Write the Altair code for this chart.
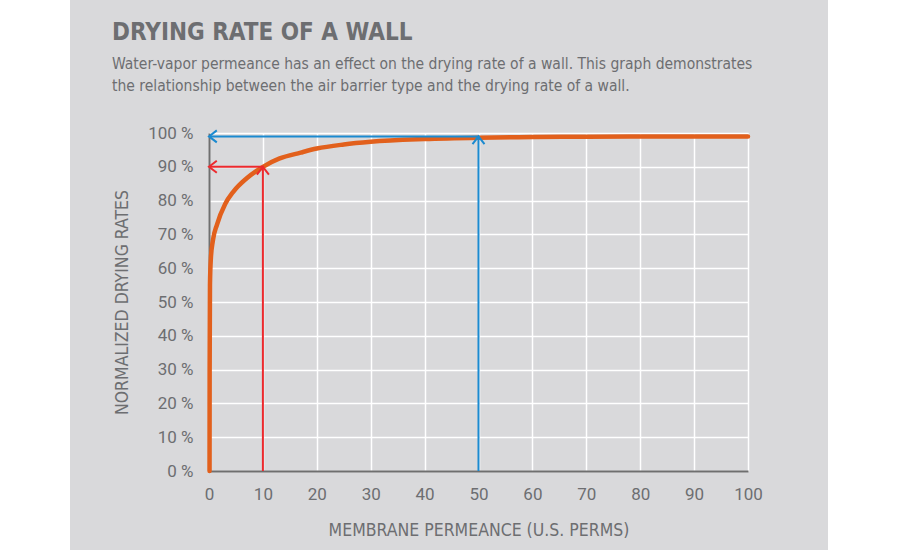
import altair as alt
import pandas as pd

# ---- data ----
perm = [0.1, 0.12, 0.18, 0.35, 0.7, 1.5, 3, 4.5, 7, 10, 13, 17, 20, 25, 30, 40, 50, 60, 70, 80, 90, 100]
rate = [0, 30, 55, 63, 68, 73, 79, 82.6, 86.6, 90, 92.4, 94.2, 95.4, 96.6, 97.4, 98.2, 98.6, 98.8, 98.9, 99, 99, 99]

arrow_series = ["red", "red", "red", "blue", "blue", "blue"]
arrow_x = [10, 10, 0, 50, 50, 0]
arrow_y = [0, 90, 90, 0, 99, 99]
arrow_order = [0, 1, 2, 0, 1, 2]

head_x = [10, 0, 50, 0]
head_y = [90, 90, 99, 99]
head_dir = ["up", "left", "up", "left"]
head_color = ["red", "red", "blue", "blue"]

x_ticks = [0, 10, 20, 30, 40, 50, 60, 70, 80, 90, 100]
y_ticks = [0, 10, 20, 30, 40, 50, 60, 70, 80, 90, 100]

title_text = "DRYING RATE OF A WALL"
subtitle_lines = [
    "Water-vapor permeance has an effect on the drying rate of a wall. This graph demonstrates",
    "the relationship between the air barrier type and the drying rate of a wall.",
]

# ---- styling ----
PANEL = "#d9d9db"
TEXT = "#6d6e71"
AXIS = "#6f6f6f"
ORANGE = "#e2601c"
RED = "#ec2a2e"
BLUE = "#1b8ad0"
NARROW = "DejaVu Sans Condensed, Liberation Sans Narrow, Roboto, sans-serif"
LABELF = "Roboto, sans-serif"

curve_df = pd.DataFrame({"perm": perm, "rate": rate, "i": range(len(perm))})
arrow_df = pd.DataFrame({"s": arrow_series, "x": arrow_x, "y": arrow_y, "o": arrow_order})
shape_map = {"up": "M -1 1.3 L 0 0 L 1 1.3", "left": "M 1.3 -1 L 0 0 L 1.3 1"}
color_map = {"red": RED, "blue": BLUE}
head_df = pd.DataFrame({
    "x": head_x, "y": head_y,
    "shape": [shape_map[d] for d in head_dir],
    "col": [color_map[c] for c in head_color],
})

W, H = 539, 338
PL, PT = 209, 133

xscale = alt.Scale(domain=[0, 100], nice=False)
yscale = alt.Scale(domain=[0, 100], nice=False)

xaxis = alt.Axis(values=x_ticks, title="MEMBRANE PERMEANCE (U.S. PERMS)", grid=True,
                 gridColor="white", gridWidth=1.5, gridOpacity=1,
                 domainColor=AXIS, domainWidth=2, ticks=False,
                 labelFont=LABELF, labelFontSize=17, labelColor=TEXT, labelPadding=15,
                 labelFlush=False, labelOverlap=False,
                 titleFont=NARROW, titleFontSize=17.5, titleFontWeight="normal",
                 titleColor=TEXT, titlePadding=19)
yaxis = alt.Axis(values=y_ticks, tickCount=11, title="NORMALIZED DRYING RATES", grid=True,
                 gridColor="white", gridWidth=1.5, gridOpacity=1,
                 domainColor=AXIS, domainWidth=2, ticks=False,
                 labelFont=LABELF, labelFontSize=17, labelColor=TEXT, labelPadding=16,
                 labelFlush=False, labelOverlap=False,
                 labelExpr="datum.value + ' %'",
                 titleFont=NARROW, titleFontSize=17.5, titleFontWeight="normal",
                 titleColor=TEXT, titlePadding=16)

bg_df = pd.DataFrame({"k": [0, 1]})
white_left = alt.Chart(bg_df.iloc[:1]).mark_rect(color="white").encode(
    x=alt.value(-PL), x2=alt.value(-PL + 70), y=alt.value(-PT), y2=alt.value(550 - PT))
white_right = alt.Chart(bg_df.iloc[1:]).mark_rect(color="white").encode(
    x=alt.value(828 - PL), x2=alt.value(900 - PL), y=alt.value(-PT), y2=alt.value(550 - PT))

curve = alt.Chart(curve_df).mark_line(color=ORANGE, strokeWidth=4.5, interpolate="monotone",
                                      strokeCap="round").encode(
    x=alt.X("perm:Q", scale=xscale, axis=xaxis),
    y=alt.Y("rate:Q", scale=yscale, axis=yaxis),
    order="i:Q",
)

arrows = alt.Chart(arrow_df).mark_line(strokeWidth=2).encode(
    x=alt.X("x:Q", scale=xscale, axis=xaxis),
    y=alt.Y("y:Q", scale=yscale, axis=yaxis),
    detail="s:N",
    order="o:Q",
    color=alt.Color("s:N", scale=alt.Scale(domain=["red", "blue"], range=[RED, BLUE]), legend=None),
)

heads = alt.Chart(head_df).mark_point(filled=False, size=144, strokeWidth=2, opacity=1).encode(
    x=alt.X("x:Q", scale=xscale, axis=xaxis),
    y=alt.Y("y:Q", scale=yscale, axis=yaxis),
    shape=alt.Shape("shape:N", scale=None),
    color=alt.Color("col:N", scale=None),
)

chart = alt.layer(white_left, white_right, curve, arrows, heads).properties(
    width=W, height=H,
    autosize=alt.AutoSizeParams(type="none"),
    padding={"left": PL, "top": PT, "right": 900 - PL - W, "bottom": 550 - PT - H},
    background=PANEL,
    title=alt.TitleParams(
        text=title_text, subtitle=subtitle_lines, anchor="start", frame="group",
        dx=-97, offset=-94,
        font=NARROW, fontSize=24, fontWeight="bold", color=TEXT,
        subtitleFont=NARROW, subtitleFontSize=15.5, subtitleColor=TEXT,
        subtitleLineHeight=22, subtitlePadding=12,
    ),
).configure_view(stroke=None)

chart.save("out.html", embed_options={"renderer": "svg", "actions": False})
